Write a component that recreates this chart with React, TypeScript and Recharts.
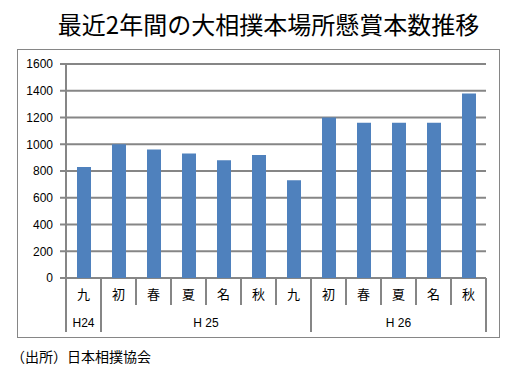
import React from 'react';
import { BarChart, Bar, XAxis, YAxis, CartesianGrid } from 'recharts';

const months = ['九', '初', '春', '夏', '名', '秋', '九', '初', '春', '夏', '名', '秋'];
const kensho = [830, 1000, 960, 930, 880, 920, 730, 1200, 1160, 1160, 1160, 1380];
const yearLabels = ['H24', 'H 25', 'H 26'];
const yearSizes = [1, 6, 5];
const yTicks = [0, 200, 400, 600, 800, 1000, 1200, 1400, 1600];
const title = '最近2年間の大相撲本場所懸賞本数推移';
const source = '（出所）日本相撲協会';

const data = months.map((m, i) => ({ key: String(i), name: m, value: kensho[i], pos: i + 0.5 }));
const n = months.length;
const catBounds = Array.from({ length: n + 1 }, (_, i) => i);
const groupBounds: number[] = [0];
yearSizes.forEach((s) => groupBounds.push(groupBounds[groupBounds.length - 1] + s));
const groupCenters = yearSizes.map((s, i) => groupBounds[i] + s / 2);

const GRAY = '#868686';
const FONT = '"Liberation Sans", Arial, "Noto Sans CJK JP", sans-serif';
const CJK = '"Noto Sans CJK JP", sans-serif';

const CatTick = (props: any) => {
  const { x, y, payload } = props;
  return (
    <text x={x} y={y + 11} textAnchor="middle" fontSize={13} fill="#000" fontFamily={CJK}>
      {months[Number(payload.value)]}
    </text>
  );
};

const YearTick = (props: any) => {
  const { x, y, payload } = props;
  const idx = groupCenters.indexOf(payload.value);
  return (
    <text x={x} y={y + 14} textAnchor="middle" fontSize={12} fill="#000" fontFamily={FONT}>
      {yearLabels[idx]}
    </text>
  );
};

const NoTick = () => <g />;

export default function App() {
  return (
    <div style={{ position: 'absolute', left: 0, top: 0, width: 523, height: 375, background: '#fff' }}>
      <svg width={523} height={375} style={{ position: 'absolute', left: 0, top: 0 }}>
        <text x={268.5} y={34} textAnchor="middle" fontSize={24} fontFamily={CJK} fill="#000">
          {title}
        </text>
        <rect x={17.5} y={49.5} width={482} height={288} fill="none" stroke={GRAY} strokeWidth={1} />
        <text x={11} y={362} fontSize={14} fontFamily={CJK} fill="#000">
          {source}
        </text>
      </svg>
      <div style={{ position: 'absolute', left: 0, top: 0 }}>
        <BarChart
          width={523}
          height={375}
          data={data}
          margin={{ top: 64, right: 37, left: 6, bottom: 43 }}
          barCategoryGap={0}
          style={{ fontFamily: FONT }}
        >
          <CartesianGrid xAxisId="c_cat" vertical={false} stroke={GRAY} strokeWidth={2} />
          <XAxis
            xAxisId="a_grp"
            dataKey="pos"
            type="number"
            domain={[0, n]}
            ticks={groupBounds}
            interval={0}
            height={1}
            tick={<NoTick />}
            tickSize={54}
            tickLine={{ stroke: GRAY, strokeWidth: 2 }}
            axisLine={false}
            allowDataOverflow
          />
          <XAxis
            xAxisId="b_sep"
            dataKey="pos"
            type="number"
            domain={[0, n]}
            ticks={catBounds}
            interval={0}
            height={1}
            tick={<NoTick />}
            tickSize={26}
            tickLine={{ stroke: GRAY, strokeWidth: 2 }}
            axisLine={false}
            allowDataOverflow
          />
          <XAxis
            xAxisId="c_cat"
            dataKey="key"
            type="category"
            interval={0}
            height={25}
            tick={<CatTick />}
            tickLine={false}
            axisLine={false}
          />
          <XAxis
            xAxisId="d_year"
            dataKey="pos"
            type="number"
            domain={[0, n]}
            ticks={groupCenters}
            interval={0}
            height={27}
            tick={<YearTick />}
            tickLine={false}
            axisLine={false}
            allowDataOverflow
          />
          <YAxis
            domain={[0, 1600]}
            ticks={yTicks}
            interval={0}
            width={60}
            tickSize={6}
            tickMargin={7}
            tickLine={{ stroke: GRAY, strokeWidth: 2 }}
            axisLine={{ stroke: GRAY, strokeWidth: 2 }}
            tick={{ fill: '#000', fontSize: 12 }}
          />
          <Bar dataKey="value" xAxisId="c_cat" fill="#4F81BD" barSize={14} isAnimationActive={false} />
        </BarChart>
      </div>
    </div>
  );
}
